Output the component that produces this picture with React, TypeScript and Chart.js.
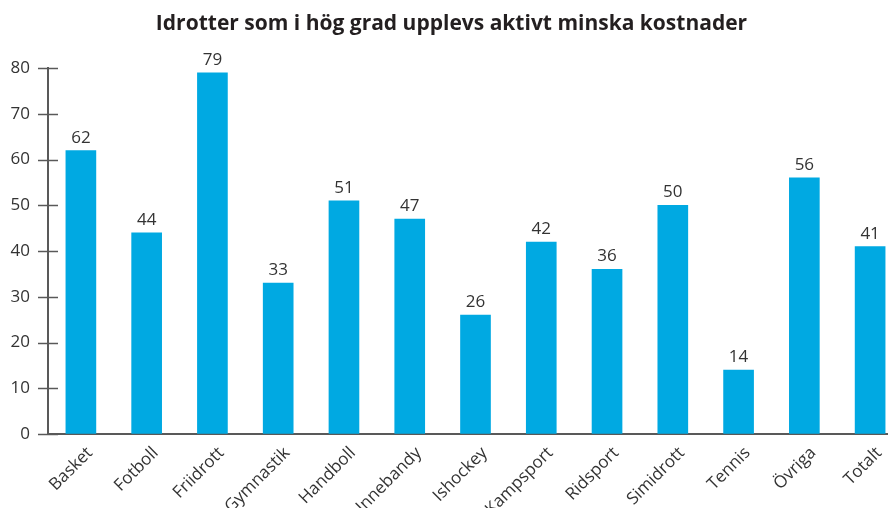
import React, { useEffect, useRef } from "react";
import { Chart, registerables } from "chart.js";

Chart.register(...registerables);

const categories = ["Basket", "Fotboll", "Friidrott", "Gymnastik", "Handboll", "Innebandy", "Ishockey", "Kampsport", "Ridsport", "Simidrott", "Tennis", "Övriga", "Totalt"];
const values = [62, 44, 79, 33, 51, 47, 26, 42, 36, 50, 14, 56, 41];
const yTicks = [0, 10, 20, 30, 40, 50, 60, 70, 80];
const title = "Idrotter som i hög grad upplevs aktivt minska kostnader";

const FONT = "'Open Sans', sans-serif";
const AXIS = "#595959";
const TEXT = "#333333";
const TITLE = "#231f20";
const BAR = "#00A9E2";

const CW = 950;
const CH = 508;

export default function App() {
  const ref = useRef<HTMLCanvasElement | null>(null);
  useEffect(() => {
    if (!ref.current) return;
    const yTickMarks = {
      id: "yTickMarks",
      afterDraw(chart: any) {
        const ctx = chart.ctx;
        const y = chart.scales.y;
        const x0 = chart.chartArea.left;
        ctx.save();
        ctx.strokeStyle = AXIS;
        ctx.lineWidth = 1.5;
        y.ticks.forEach((t: any) => {
          const py = Math.round(y.getPixelForValue(t.value)) + 0.5;
          ctx.beginPath();
          ctx.moveTo(x0 - 10, py);
          ctx.lineTo(x0 + 10, py);
          ctx.stroke();
        });
        ctx.restore();
      },
    };
    const dataLabels = {
      id: "dataLabels",
      afterDatasetsDraw(chart: any) {
        const ctx = chart.ctx;
        const meta = chart.getDatasetMeta(0);
        ctx.save();
        ctx.fillStyle = TEXT;
        ctx.font = `17px ${FONT}`;
        ctx.textAlign = "center";
        ctx.textBaseline = "alphabetic";
        meta.data.forEach((bar: any, i: number) => {
          ctx.fillText(String(values[i]), bar.x, bar.y - 8);
        });
        ctx.restore();
      },
    };
    const chart = new Chart(ref.current, {
      type: "bar",
      data: {
        labels: categories,
        datasets: [
          {
            data: values,
            backgroundColor: BAR,
            barThickness: 30,
          },
        ],
      },
      options: {
        animation: false,
        responsive: false,
        devicePixelRatio: 1,
        layout: { padding: { left: 0, right: CW - 903, top: 0, bottom: 0 } },
        plugins: {
          legend: { display: false },
          tooltip: { enabled: false },
          title: {
            display: true,
            text: title,
            color: TITLE,
            font: { family: FONT, size: 21, weight: "bold" },
            padding: { top: 11, bottom: 32 },
          },
        },
        scales: {
          x: {
            grid: { display: false },
            border: { display: true, color: AXIS, width: 2 },
            ticks: {
              color: TEXT,
              font: { family: FONT, size: 17 },
              minRotation: 45,
              maxRotation: 45,
              padding: 1,
              labelOffset: 9,
            },
            afterFit(scale: any) {
              scale.height = CH - 434;
            },
          },
          y: {
            min: 0,
            max: 80,
            grid: { display: true, drawOnChartArea: false, drawTicks: true, tickLength: 10, color: "transparent" },
            border: { display: true, color: AXIS, width: 2 },
            ticks: {
              stepSize: 10,
              color: TEXT,
              font: { family: FONT, size: 17 },
              padding: 8,
              callback: (v: any) => (yTicks.includes(Number(v)) ? String(v) : ""),
            },
            afterFit(scale: any) {
              scale.width = 48;
            },
          },
        },
      },
      plugins: [yTickMarks, dataLabels],
    });
    return () => chart.destroy();
  }, []);
  return (
    <div style={{ position: "fixed", left: 0, top: 0, width: 888, height: 508, overflow: "hidden", background: "#fff" }}>
      <canvas ref={ref} width={CW} height={CH} style={{ width: CW, height: CH, display: "block" }} />
    </div>
  );
}
